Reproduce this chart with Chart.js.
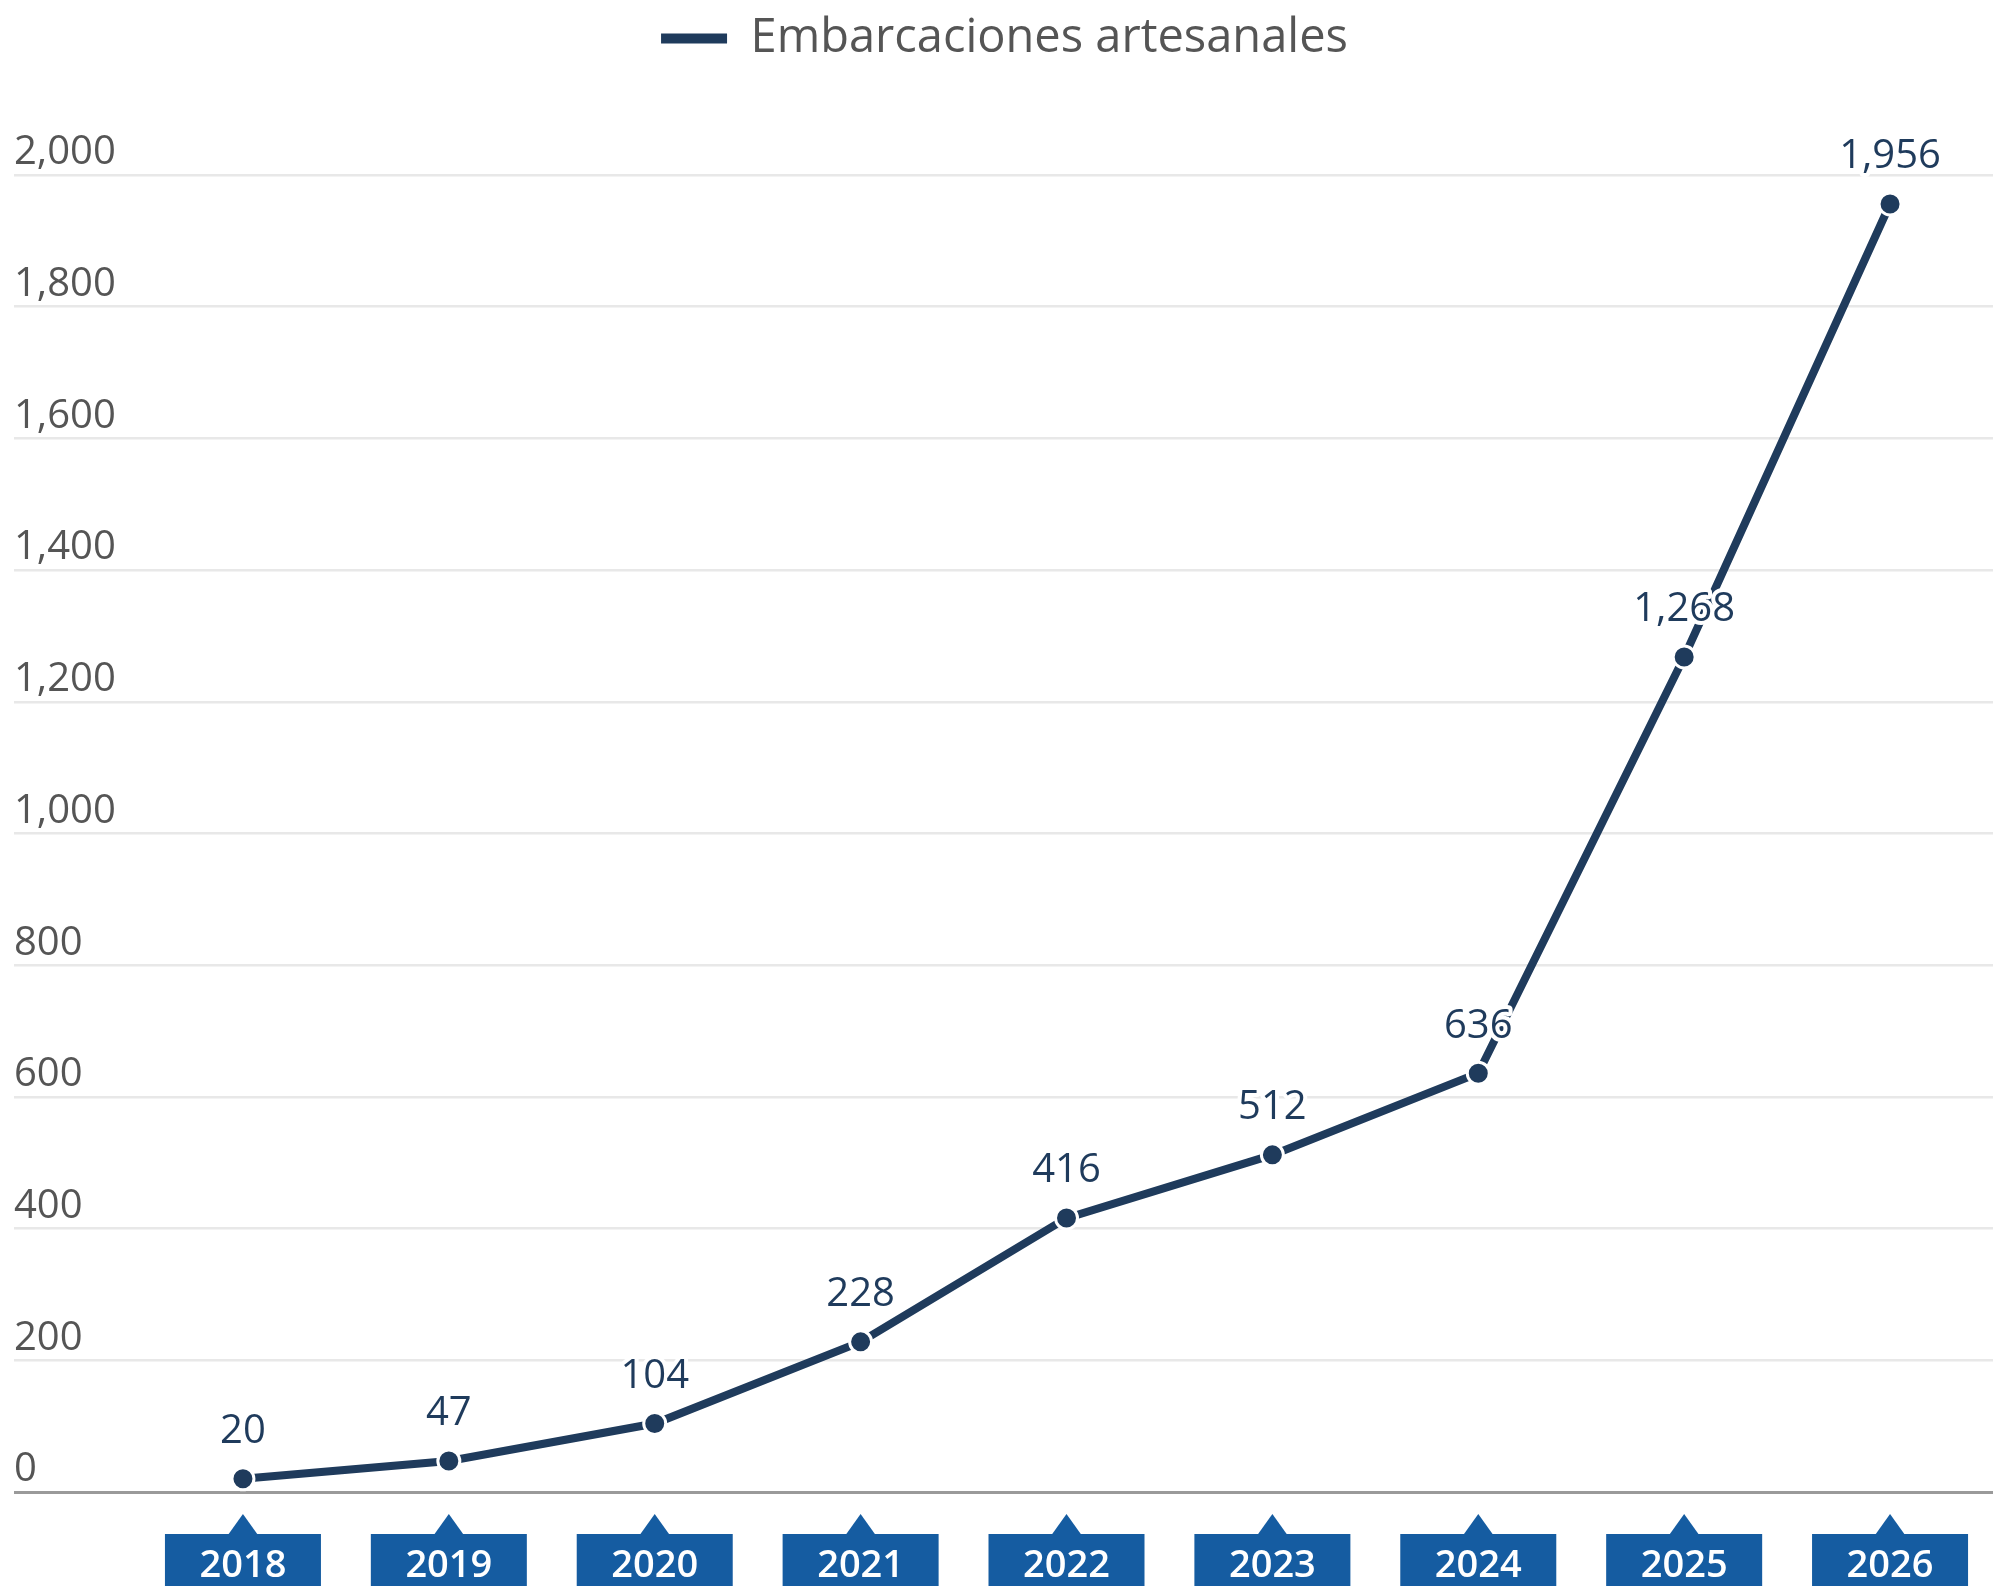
<!DOCTYPE html>
<html>
<head>
<meta charset="utf-8">
<script src="https://cdn.jsdelivr.net/npm/chart.js@4/dist/chart.umd.min.js"></script>
<style>
  html, body { margin: 0; padding: 0; background: #fff; }
  canvas { display: block; }
</style>
</head>
<body>
<canvas id="mainChart" width="2007" height="1586"></canvas>
<script>
// Data
const years = ['2018', '2019', '2020', '2021', '2022', '2023', '2024', '2025', '2026'];
const boats = [20, 47, 104, 228, 416, 512, 636, 1268, 1956];
const seriesLabel = 'Embarcaciones artesanales';
const yMin = 0;
const yMax = 2000;
const yStep = 200;

// Styles
const NAVY = '#1f3b5c';
const BOX_BLUE = '#155ca1';
const FONT = '"Open Sans", "Noto Sans", sans-serif';

const fmt = (v) => Number(v).toLocaleString('en-US');

// Blue year boxes with a small arrow under the axis
const yearBoxes = {
  id: 'yearBoxes',
  beforeDraw(chart) {
    const { ctx } = chart;
    const x = chart.scales.x;
    const top = chart.chartArea.bottom + 42;
    ctx.save();
    ctx.fillStyle = BOX_BLUE;
    x.ticks.forEach((t, i) => {
      const px = x.getPixelForTick(i);
      ctx.fillRect(px - 78, top, 156, chart.height - top + 2);
      ctx.beginPath();
      ctx.moveTo(px - 15, top + 1);
      ctx.lineTo(px, top - 20);
      ctx.lineTo(px + 15, top + 1);
      ctx.closePath();
      ctx.fill();
    });
    ctx.restore();
  }
};

// Value labels above each point, with a white halo
const valueLabels = {
  id: 'valueLabels',
  afterDatasetsDraw(chart) {
    const { ctx } = chart;
    const meta = chart.getDatasetMeta(0);
    ctx.save();
    ctx.font = '40px ' + FONT;
    ctx.textAlign = 'center';
    ctx.textBaseline = 'middle';
    ctx.lineJoin = 'round';
    meta.data.forEach((pt, i) => {
      const text = fmt(boats[i]);
      ctx.lineWidth = 8;
      ctx.strokeStyle = '#ffffff';
      ctx.strokeText(text, pt.x, pt.y - 47);
      ctx.fillStyle = NAVY;
      ctx.fillText(text, pt.x, pt.y - 47);
    });
    ctx.restore();
  }
};

// Extra room below the legend
const legendSpace = {
  id: 'legendSpace',
  beforeInit(chart) {
    const fit = chart.legend.fit;
    chart.legend.fit = function () {
      fit.bind(chart.legend)();
      this.height += 103;
    };
  }
};

const ctx = document.getElementById('mainChart').getContext('2d');

new Chart(ctx, {
  type: 'line',
  data: {
    labels: years,
    datasets: [{
      label: seriesLabel,
      data: boats,
      borderColor: NAVY,
      backgroundColor: NAVY,
      borderWidth: 8,
      tension: 0,
      pointRadius: 11,
      pointBackgroundColor: NAVY,
      pointBorderColor: '#ffffff',
      pointBorderWidth: 3,
      clip: false
    }]
  },
  options: {
    responsive: false,
    devicePixelRatio: 1,
    animation: false,
    layout: { padding: { left: 14, right: 12, top: 0, bottom: 0 } },
    plugins: {
      tooltip: { enabled: false },
      legend: {
        position: 'top',
        labels: {
          boxWidth: 66,
          boxHeight: 10,
          padding: 15,
          color: '#555555',
          font: { family: FONT, size: 47 },
          generateLabels: (chart) =>
            Chart.defaults.plugins.legend.labels.generateLabels(chart).map(item => ({
              ...item, fillStyle: NAVY, lineWidth: 0
            }))
        }
      }
    },
    scales: {
      x: {
        offset: true,
        grid: { display: false, drawTicks: false },
        border: { display: false },
        ticks: {
          color: '#ffffff',
          padding: 51,
          font: { family: FONT, size: 38, weight: 600 }
        },
        afterFit: (scale) => { scale.height = 94; }
      },
      y: {
        min: yMin,
        max: yMax,
        border: { display: false },
        grid: {
          drawTicks: true,
          tickLength: 126,
          color: (c) => (c.tick && c.tick.value === 0 ? '#9a9a9a' : '#e8e8e8'),
          lineWidth: (c) => (c.tick && c.tick.value === 0 ? 3 : 2.5)
        },
        ticks: {
          stepSize: yStep,
          crossAlign: 'far',
          labelOffset: -22,
          color: '#555555',
          font: { family: FONT, size: 40 },
          callback: (v) => fmt(v)
        },
        afterFit: (scale) => { scale.width = 126; }
      }
    }
  },
  plugins: [legendSpace, yearBoxes, valueLabels]
});
</script>
</body>
</html>
